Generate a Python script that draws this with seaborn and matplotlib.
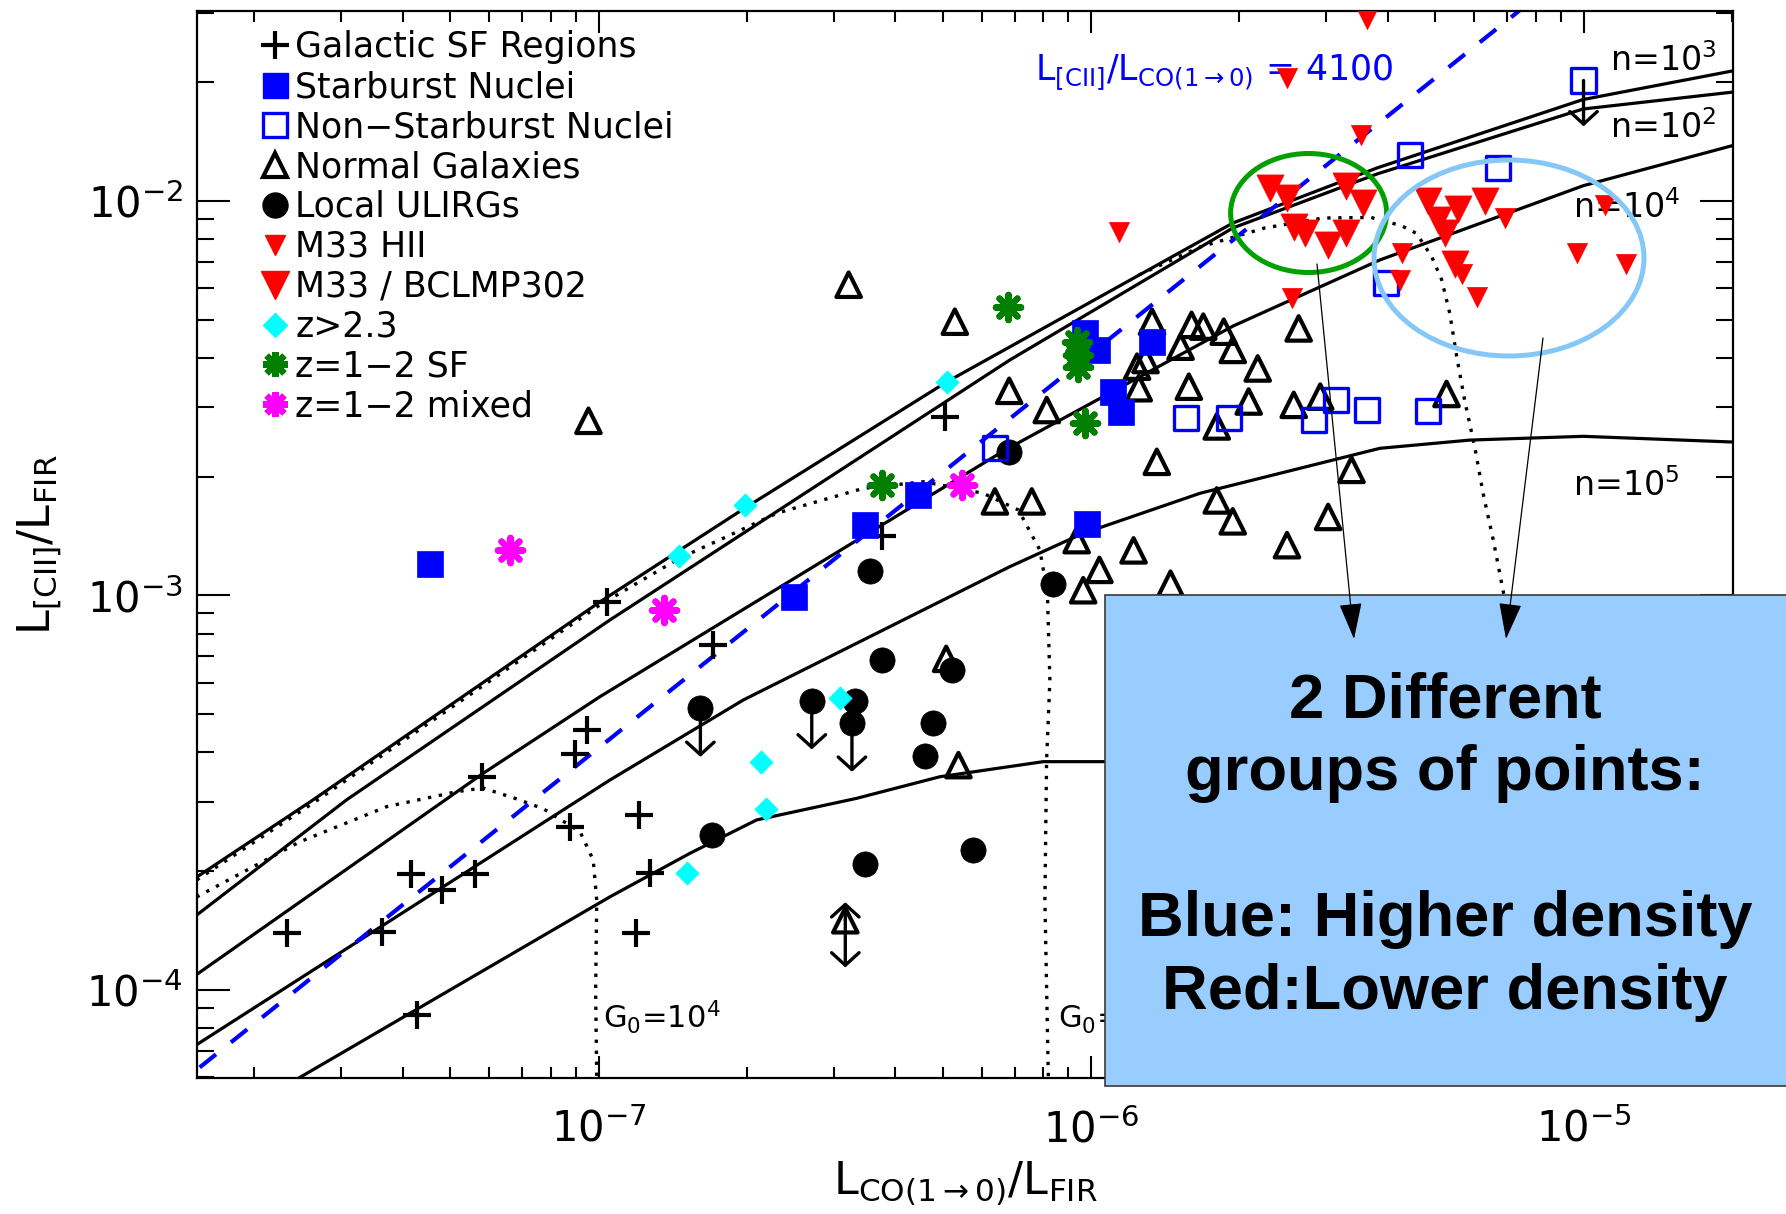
import matplotlib
matplotlib.use("Agg")
import matplotlib.pyplot as plt
from matplotlib.lines import Line2D
from matplotlib.patches import Rectangle, Ellipse, FancyArrowPatch
from matplotlib.ticker import LogLocator, NullFormatter
import seaborn as sns

# ---------------------------------------------------------------- data
# Galactic star-forming regions
galactic_x = [2.33e-8, 3.63e-8, 4.17e-8, 4.27e-8, 4.80e-8, 5.61e-8, 5.79e-8, 8.75e-8,
              8.96e-8, 9.46e-8, 1.04e-7, 1.21e-7, 1.27e-7, 1.19e-7, 1.71e-7, 3.76e-7, 5.05e-7]
galactic_y = [1.39e-4, 1.40e-4, 1.97e-4, 8.62e-5, 1.79e-4, 1.97e-4, 3.47e-4, 2.59e-4,
              3.97e-4, 4.55e-4, 9.63e-4, 2.77e-4, 1.98e-4, 1.39e-4, 7.49e-4, 1.41e-3, 2.84e-3]

# Starburst nuclei
starburst_x = [4.55e-8, 2.49e-7, 3.47e-7, 4.46e-7, 9.72e-7, 1.03e-6, 1.11e-6, 1.15e-6, 1.33e-6, 9.83e-7]
starburst_y = [1.20e-3, 9.91e-4, 1.51e-3, 1.80e-3, 4.62e-3, 4.19e-3, 3.28e-3, 2.92e-3, 4.40e-3, 1.52e-3]

# Non-starburst nuclei (last one is an upper limit)
nonsb_x = [6.38e-7, 1.56e-6, 1.91e-6, 2.83e-6, 3.15e-6, 3.63e-6, 4.84e-6, 3.98e-6, 4.44e-6, 6.71e-6, 1.00e-5]
nonsb_y = [2.36e-3, 2.81e-3, 2.81e-3, 2.78e-3, 3.13e-3, 2.95e-3, 2.93e-3, 6.19e-3, 1.31e-2, 1.21e-2, 2.02e-2]
nonsb_limit = [False] * 10 + [True]

# Normal galaxies (one with a two-sided limit)
normal_x = [3.22e-7, 9.54e-8, 5.29e-7, 6.82e-7, 6.38e-7, 7.58e-7, 5.38e-7, 5.08e-7, 3.17e-7, 8.13e-7,
            1.33e-6, 1.60e-6, 1.69e-6, 1.86e-6, 1.94e-6, 1.52e-6, 1.29e-6, 1.24e-6, 1.25e-6, 2.18e-6,
            2.64e-6, 1.58e-6, 2.09e-6, 1.80e-6, 2.58e-6, 2.92e-6, 1.36e-6, 1.80e-6, 1.94e-6, 3.03e-6,
            3.38e-6, 2.50e-6, 9.35e-7, 1.22e-6, 1.04e-6, 1.45e-6, 9.64e-7, 5.27e-6]
normal_y = [6.13e-3, 2.77e-3, 4.94e-3, 3.30e-3, 1.73e-3, 1.73e-3, 3.71e-4, 6.90e-4, 1.50e-4, 2.95e-3,
            4.94e-3, 4.85e-3, 4.80e-3, 4.66e-3, 4.19e-3, 4.27e-3, 3.95e-3, 3.80e-3, 3.35e-3, 3.76e-3,
            4.75e-3, 3.38e-3, 3.10e-3, 2.68e-3, 3.04e-3, 3.19e-3, 2.18e-3, 1.74e-3, 1.54e-3, 1.58e-3,
            2.08e-3, 1.34e-3, 1.38e-3, 1.30e-3, 1.16e-3, 1.07e-3, 1.03e-3, 3.24e-3]
normal_twosided = [i == 8 for i in range(len(normal_x))]

# Local ULIRGs (some upper limits)
ulirg_x = [3.56e-7, 3.76e-7, 5.21e-7, 6.82e-7, 1.61e-7, 2.71e-7, 3.32e-7, 3.27e-7, 4.78e-7, 4.60e-7,
           1.70e-7, 3.47e-7, 5.75e-7, 8.38e-7]
ulirg_y = [1.15e-3, 6.85e-4, 6.46e-4, 2.31e-3, 5.17e-4, 5.40e-4, 5.40e-4, 4.74e-4, 4.74e-4, 3.91e-4,
           2.47e-4, 2.08e-4, 2.26e-4, 1.07e-3]
ulirg_limit = [False, False, False, False, True, True, False, True, False, False, False, False, False, False]

# M33 HII regions
hii_x = [3.63e-6, 1.14e-6, 2.50e-6, 3.54e-6, 2.56e-6, 6.92e-6, 4.27e-6, 4.24e-6, 5.66e-6, 6.07e-6,
         9.68e-6, 1.22e-5, 1.105e-5]
hii_y = [2.90e-2, 8.36e-3, 2.05e-2, 1.47e-2, 5.66e-3, 9.04e-3, 7.39e-3, 6.32e-3, 6.54e-3, 5.72e-3,
         7.39e-3, 6.91e-3, 9.78e-3]

# M33 / BCLMP302
bclmp_x = [2.31e-6, 2.50e-6, 2.58e-6, 2.72e-6, 3.03e-6, 3.30e-6, 3.57e-6, 3.30e-6, 4.84e-6, 5.57e-6,
           6.31e-6, 5.07e-6, 5.23e-6, 5.48e-6]
bclmp_y = [1.08e-2, 1.02e-2, 8.60e-3, 8.28e-3, 7.73e-3, 1.09e-2, 9.86e-3, 8.28e-3, 1.00e-2, 9.56e-3,
           1.00e-2, 8.94e-3, 8.27e-3, 6.91e-3]

# z > 2.3
hiz_x = [5.09e-7, 1.98e-7, 1.46e-7, 3.09e-7, 2.14e-7, 2.19e-7, 1.51e-7]
hiz_y = [3.48e-3, 1.69e-3, 1.26e-3, 5.48e-4, 3.78e-4, 2.88e-4, 1.98e-4]

# z = 1-2 star forming
sf_x = [6.79e-7, 9.35e-7, 9.42e-7, 9.42e-7, 9.72e-7, 3.76e-7]
sf_y = [5.39e-3, 4.40e-3, 4.06e-3, 3.80e-3, 2.73e-3, 1.90e-3]

# z = 1-2 mixed
mixed_x = [6.61e-8, 1.36e-7, 5.46e-7]
mixed_y = [1.30e-3, 9.17e-4, 1.90e-3]

# PDR model tracks of constant density
n1e3_x = [1.528e-8, 2.634e-8, 1.006e-7, 1.983e-7, 5.09e-7, 1.941e-6, 3.806e-6, 9.97e-6, 2.011e-5]
n1e3_y = [1.93e-4, 3.03e-4, 9.62e-4, 1.665e-3, 3.474e-3, 8.79e-3, 1.212e-2, 1.807e-2, 2.137e-2]
n1e2_x = [1.528e-8, 3.08e-8, 1.055e-7, 6.84e-7, 1.941e-6, 3.806e-6, 9.97e-6, 2.011e-5]
n1e2_y = [1.546e-4, 3.03e-4, 8.66e-4, 3.95e-3, 8.54e-3, 1.17e-2, 1.71e-2, 1.888e-2]
n1e4_x = [1.528e-8, 5.834e-8, 1.006e-7, 6.69e-7, 1.943e-6, 3.86e-6, 9.99e-6, 2.01e-5]
n1e4_y = [1.093e-4, 3.538e-4, 5.53e-4, 2.335e-3, 4.817e-3, 7.085e-3, 1.093e-2, 1.382e-2]
n1e5_x = [1.528e-8, 1.055e-7, 1.967e-7, 6.84e-7, 9.59e-7, 1.664e-6, 3.86e-6, 5.88e-6, 9.99e-6, 2.01e-5]
n1e5_y = [7.255e-5, 3.402e-4, 5.426e-4, 1.182e-3, 1.432e-3, 1.814e-3, 2.359e-3, 2.475e-3, 2.53e-3, 2.447e-3]
n1e6_x = [2.457e-8, 1.055e-7, 1.533e-7, 2.094e-7, 3.342e-7, 4.934e-7, 8.0e-7, 2.01e-5]
n1e6_y = [5.96e-5, 1.72e-4, 2.217e-4, 2.694e-4, 3.056e-4, 3.467e-4, 3.786e-4, 3.786e-4]

# PDR model tracks of constant G0
g0_1e4_x = [1.527e-8, 2.476e-8, 3.713e-8, 5.15e-8, 5.826e-8, 6.767e-8, 7.721e-8, 9.17e-8,
            9.755e-8, 9.916e-8, 9.865e-8, 9.916e-8]
g0_1e4_y = [1.718e-4, 2.372e-4, 2.911e-4, 3.177e-4, 3.246e-4, 3.056e-4, 2.876e-4, 2.516e-4,
            2.132e-4, 1.688e-4, 9.92e-5, 5.99e-5]
g0_1e3_x = [1.528e-8, 2.634e-8, 1.006e-7, 1.463e-7, 1.791e-7, 2.299e-7, 3.447e-7, 4.564e-7,
            6.04e-7, 7.125e-7, 7.874e-7, 8.155e-7, 8.25e-7, 8.124e-7, 8.06e-7, 8.19e-7]
g0_1e3_y = [1.897e-4, 2.974e-4, 9.45e-4, 1.243e-3, 1.395e-3, 1.614e-3, 1.867e-3, 1.941e-3,
            1.814e-3, 1.645e-3, 1.302e-3, 1.013e-3, 6.1e-4, 3.824e-4, 1.688e-4, 6.008e-5]
g0_1e2_x = [1.251e-6, 1.664e-6, 2.254e-6, 2.958e-6, 3.702e-6, 4.272e-6, 4.582e-6, 4.915e-6,
            5.15e-6, 5.354e-6, 5.524e-6, 5.744e-6, 6.018e-6, 6.255e-6, 6.555e-6, 6.955e-6]
g0_1e2_y = [6.49e-3, 7.64e-3, 8.54e-3, 9.05e-3, 9.08e-3, 8.65e-3, 8.27e-3, 7.23e-3,
            6.32e-3, 5.17e-3, 4.046e-3, 3.095e-3, 2.366e-3, 1.81e-3, 1.384e-3, 9.45e-4]

# constant [CII]/CO(1-0) ratio
cii_co_ratio = 4100
ratio_x = [1.0e-8, 3.0e-5]
ratio_y = [cii_co_ratio * v for v in ratio_x]

legend_labels = ["Galactic SF Regions", "Starburst Nuclei", "Non\u2212Starburst Nuclei",
                 "Normal Galaxies", "Local ULIRGs", "M33 HII", "M33 / BCLMP302",
                 "z>2.3", "z=1\u22122 SF", "z=1\u22122 mixed"]

# ---------------------------------------------------------------- style
sns.set_style("ticks")
plt.rcParams["font.family"] = ["DejaVu Sans"]
plt.rcParams["mathtext.default"] = "regular"
for key in ["text.color", "axes.labelcolor", "xtick.color", "ytick.color", "axes.edgecolor"]:
    plt.rcParams[key] = "black"

W, H = 1786, 1214
fig = plt.figure(figsize=(W / 100, H / 100), dpi=100)
fig.patch.set_facecolor("white")
ax = fig.add_axes([0.1103, 0.1120, 0.8600, 0.8789])
ax.set_facecolor("white")
ax.set_xscale("log")
ax.set_yscale("log")
ax.set_xlim(1.53e-8, 2.011e-5)
ax.set_ylim(5.97e-5, 3.03e-2)

BLUE = "#0000FF"
RED = "#FF0000"
CYAN = "#00FFFF"
GREEN = "#007F00"
MAGENTA = "#FF00FF"

# model tracks
for xs, ys in [(n1e3_x, n1e3_y), (n1e2_x, n1e2_y), (n1e4_x, n1e4_y), (n1e5_x, n1e5_y), (n1e6_x, n1e6_y)]:
    sns.lineplot(x=xs, y=ys, ax=ax, sort=False, estimator=None, color="black", lw=2.3, zorder=2)
for xs, ys in [(g0_1e4_x, g0_1e4_y), (g0_1e3_x, g0_1e3_y), (g0_1e2_x, g0_1e2_y)]:
    sns.lineplot(x=xs, y=ys, ax=ax, sort=False, estimator=None, color="black", lw=2.4,
                 linestyle=(0, (1.0, 2.3)), zorder=2)
sns.lineplot(x=ratio_x, y=ratio_y, ax=ax, sort=False, estimator=None, color=BLUE, lw=3.0,
             linestyle=(0, (5.0, 4.6)), zorder=2)


def pts(xs, ys, z=3, **kw):
    sns.scatterplot(x=xs, y=ys, ax=ax, legend=False, zorder=z, **kw)


pts(galactic_x, galactic_y, marker="+", s=400, color="black", linewidth=3.0)
pts(normal_x, normal_y, marker="^", s=310, color="black", facecolor="none", edgecolor="black", linewidth=3.0)
pts(ulirg_x, ulirg_y, marker="o", s=330, color="black", edgecolor="black", linewidth=0.5)
pts(starburst_x, starburst_y, marker="s", s=330, color=BLUE, edgecolor=BLUE, linewidth=0.5)
pts(nonsb_x, nonsb_y, marker="s", s=300, color=BLUE, facecolor="none", edgecolor=BLUE, linewidth=2.4)
pts(hiz_x, hiz_y, marker="D", s=140, color=CYAN, edgecolor=CYAN, linewidth=0.5)
pts(sf_x, sf_y, marker=(8, 2, 0), s=330, color=GREEN, linewidth=4.5)
pts(mixed_x, mixed_y, marker=(8, 2, 0), s=330, color=MAGENTA, linewidth=4.5)
pts(hii_x, hii_y, z=4, marker="v", s=210, color=RED, edgecolor=RED, linewidth=0.5)
pts(bclmp_x, bclmp_y, z=4, marker="v", s=380, color=RED, edgecolor=RED, linewidth=0.5)


def limit_arrow(x, y, dy):
    ax.annotate("", xy=(x, y), xytext=(0, dy), textcoords="offset points",
                arrowprops=dict(arrowstyle="<-,head_length=0.5,head_width=0.55", lw=2.4,
                                color="black", shrinkA=0, shrinkB=0, mutation_scale=18),
                zorder=3)


for x, y, flag in zip(ulirg_x, ulirg_y, ulirg_limit):
    if flag:
        limit_arrow(x, y, -35)
for x, y, flag in zip(nonsb_x, nonsb_y, nonsb_limit):
    if flag:
        limit_arrow(x, y, -33)
for x, y, flag in zip(normal_x, normal_y, normal_twosided):
    if flag:
        limit_arrow(x, y, -34)
        limit_arrow(x, y, 13)

# axes, ticks
for sp in ax.spines.values():
    sp.set_linewidth(1.6)
    sp.set_color("black")
    sp.set_visible(True)
ax.xaxis.set_major_locator(LogLocator(base=10, numticks=20))
ax.xaxis.set_minor_locator(LogLocator(base=10, subs=range(2, 10), numticks=20))
ax.yaxis.set_major_locator(LogLocator(base=10, numticks=20))
ax.yaxis.set_minor_locator(LogLocator(base=10, subs=range(2, 10), numticks=20))
ax.xaxis.set_minor_formatter(NullFormatter())
ax.yaxis.set_minor_formatter(NullFormatter())
ax.tick_params(axis="both", which="both", direction="in", top=True, right=True,
               colors="black", labelcolor="black")
ax.tick_params(axis="x", which="major", length=15.8, width=1.5, pad=22, labelsize=30)
ax.tick_params(axis="x", which="minor", length=8, width=1.5)
ax.tick_params(axis="y", which="major", length=23.8, width=1.5, pad=10, labelsize=30)
ax.tick_params(axis="y", which="minor", length=12, width=1.5)

ax.set_xlabel(r"$L_{CO(1\rightarrow0)}/L_{FIR}$", fontsize=32, color="black")
ax.set_ylabel(r"$L_{[CII]}/L_{FIR}$", fontsize=32, color="black")
ax.xaxis.set_label_coords(0.5, -0.077)
ax.yaxis.set_label_coords(-0.087, 0.5)

# in-plot labels
ax.text(0.5456, 0.9344, r"$L_{[CII]}/L_{CO(1\rightarrow0)}$ = 4100", transform=ax.transAxes,
        color=BLUE, fontsize=25, va="baseline", ha="left", zorder=3)
for lab, x, y in [(r"n=10$^3$", 0.9199, 0.9438), (r"n=10$^2$", 0.9199, 0.881),
                  (r"n=10$^4$", 0.8958, 0.806), (r"n=10$^5$", 0.8958, 0.5455)]:
    ax.text(x, y, lab, transform=ax.transAxes, fontsize=24, va="baseline", ha="left",
            color="black", zorder=3)
for lab, x in [(r"G$_0$=10$^4$", 0.2643), (r"G$_0$=10$^3$", 0.5605)]:
    ax.text(x, 0.0469, lab, transform=ax.transAxes, fontsize=22, va="baseline", ha="left",
            color="black", zorder=3)

# legend
handles = [
    Line2D([], [], ls="none", marker="+", color="black", ms=19.5, mew=3.0),
    Line2D([], [], ls="none", marker="s", color=BLUE, ms=18),
    Line2D([], [], ls="none", marker="s", mfc="none", mec=BLUE, ms=17, mew=2.4),
    Line2D([], [], ls="none", marker="^", mfc="none", mec="black", ms=17, mew=3.0),
    Line2D([], [], ls="none", marker="o", color="black", ms=18),
    Line2D([], [], ls="none", marker="v", color=RED, ms=14.5),
    Line2D([], [], ls="none", marker="v", color=RED, ms=19.5),
    Line2D([], [], ls="none", marker="D", color=CYAN, ms=11.8),
    Line2D([], [], ls="none", marker=(8, 2, 0), color=GREEN, ms=18, mew=4.5),
    Line2D([], [], ls="none", marker=(8, 2, 0), color=MAGENTA, ms=18, mew=4.5),
]
leg = ax.legend(handles, legend_labels, loc="upper left", bbox_to_anchor=(0.1471, 0.975),
                bbox_transform=fig.transFigure, frameon=False, fontsize=25, handlelength=0.7,
                handletextpad=0.24, labelspacing=0.17, borderpad=0, borderaxespad=0, numpoints=1)
for t in leg.get_texts():
    t.set_color("black")

# ---------------------------------------------------------------- callout overlay
def fx(x):
    return x / W


def fy(y):
    return 1 - y / H


fig.add_artist(Ellipse((fx(1308.6), fy(213)), 156 / W, 119 / H, transform=fig.transFigure,
                       fill=False, edgecolor="#00A000", lw=3.6, zorder=6))
fig.add_artist(Ellipse((fx(1509), fy(258)), 270 / W, 196 / H, transform=fig.transFigure,
                       fill=False, edgecolor="#85C8F8", lw=3.6, zorder=6))
fig.add_artist(Rectangle((fx(1105), fy(1086)), fx(1792) - fx(1105), (1086 - 595) / H,
                         transform=fig.transFigure, facecolor="#99CCFF", edgecolor="#3A3A3A",
                         lw=1.2, zorder=5))
for (x0, y0), (x1, y1) in [((1317, 264), (1354, 639)), ((1543, 338), (1506, 639))]:
    fig.add_artist(FancyArrowPatch((fx(x0), fy(y0)), (fx(x1), fy(y1)), transform=fig.transFigure,
                                   arrowstyle="-|>,head_length=1.15,head_width=0.36",
                                   mutation_scale=20, lw=0.9, color="black",
                                   shrinkA=0, shrinkB=0, zorder=7))
for txt, yb in [("2 Different", 717.5), ("groups of points:", 790),
                ("Blue: Higher density", 935.8), ("Red:Lower density", 1008.6)]:
    fig.text(fx(1445), fy(yb), txt, ha="center", va="baseline", fontsize=45.5, color="black",
             fontweight="bold", family=["Liberation Sans", "DejaVu Sans"], zorder=8)

fig.savefig("out.png", dpi=100, facecolor="white")
